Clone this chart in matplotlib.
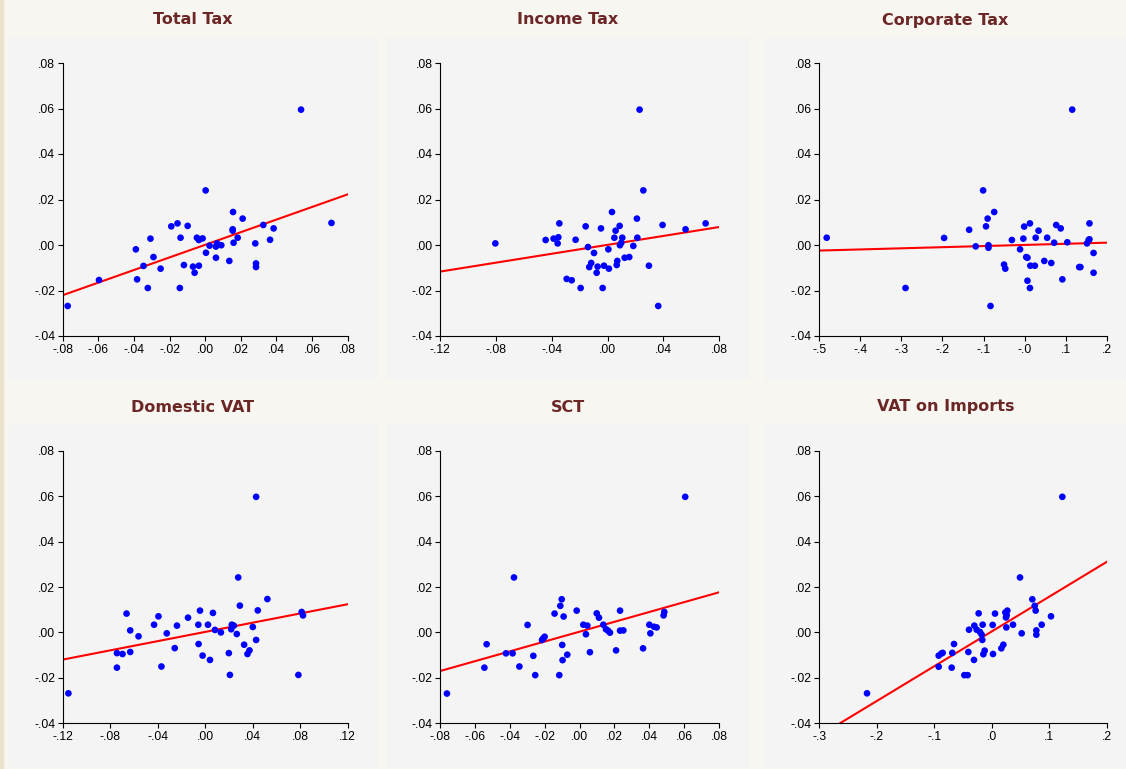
import numpy as np
import matplotlib.pyplot as plt
from matplotlib.patches import Rectangle
from matplotlib.ticker import FuncFormatter

# data (x = tax variable, y = common dependent variable)
titles = ['Total Tax', 'Income Tax', 'Corporate Tax', 'Domestic VAT', 'SCT', 'VAT on Imports']

total_x = [-0.0772, -0.0596, -0.0389, -0.0382, -0.0346, -0.0322, -0.0307, -0.0290, -0.0250, -0.0190,
           -0.0155, -0.0138, -0.0142, -0.0119, -0.0098, -0.0068, -0.0059, -0.0046, -0.0035, -0.0035,
           -0.0014, 0.0003, 0.0005, 0.0025, 0.0061, 0.0067, 0.0061, 0.0091, 0.0136, 0.0157,
           0.0155, 0.0155, 0.0160, 0.0183, 0.0211, 0.0282, 0.0286, 0.0286, 0.0327, 0.0365,
           0.0385, 0.0539, 0.0710]
total_y = [-0.0268, -0.0154, -0.0019, -0.0151, -0.0092, -0.0189, 0.0028, -0.0053, -0.0104, 0.0082,
           0.0095, 0.0032, -0.0189, -0.0088, 0.0084, -0.0095, -0.0122, 0.0032, 0.0022, -0.0091,
           0.0029, 0.0240, -0.0034, -0.0003, -0.0007, 0.0007, -0.0056, -0.0001, -0.0070, 0.0145,
           0.0069, 0.0063, 0.0010, 0.0032, 0.0116, 0.0007, -0.0081, -0.0097, 0.0088, 0.0023,
           0.0073, 0.0595, 0.0097]

income_x = [-0.0805, -0.0444, -0.0387, -0.0358, -0.0353, -0.0346, -0.0293, -0.0257, -0.0229, -0.0193,
            -0.0157, -0.0140, -0.0131, -0.0117, -0.0097, -0.0078, -0.0071, -0.0047, -0.0035, -0.0025,
            0.0006, 0.0010, 0.0032, 0.0049, 0.0058, 0.0066, 0.0070, 0.0087, 0.0089, 0.0099,
            0.0106, 0.0123, 0.0156, 0.0185, 0.0211, 0.0214, 0.0230, 0.0257, 0.0297, 0.0364,
            0.0395, 0.0560, 0.0704]
income_y = [0.0007, 0.0022, 0.0028, 0.0007, 0.0034, 0.0095, -0.0149, -0.0155, 0.0023, -0.0189,
            0.0082, -0.0009, -0.0097, -0.0079, -0.0035, -0.0122, -0.0095, 0.0073, -0.0189, -0.0091,
            -0.0019, -0.0104, 0.0145, 0.0032, 0.0063, -0.0088, -0.0070, 0.0084, -0.0001, 0.0010,
            0.0032, -0.0056, -0.0053, -0.0004, 0.0116, 0.0032, 0.0595, 0.0240, -0.0091, -0.0268,
            0.0088, 0.0069, 0.0095]

corp_x = [-0.482, -0.290, -0.196, -0.135, -0.119, -0.101, -0.094, -0.090, -0.088, -0.088,
          -0.083, -0.074, -0.050, -0.047, -0.031, -0.011, -0.003, -0.001, 0.004, 0.007,
          0.007, 0.013, 0.013, 0.014, 0.025, 0.027, 0.034, 0.048, 0.055, 0.065,
          0.072, 0.077, 0.088, 0.092, 0.104, 0.116, 0.133, 0.136, 0.152, 0.156,
          0.158, 0.158, 0.168, 0.168]
corp_y = [0.0032, -0.0189, 0.0031, 0.0067, -0.0006, 0.0240, 0.0082, 0.0116, -0.0001, -0.0012,
          -0.0268, 0.0145, -0.0086, -0.0104, 0.0022, -0.0019, 0.0028, 0.0081, -0.0053, -0.0056,
          -0.0157, 0.0095, -0.0189, -0.0091, -0.0091, 0.0032, 0.0063, -0.0070, 0.0032, -0.0079,
          0.0010, 0.0088, 0.0073, -0.0151, 0.0012, 0.0595, -0.0097, -0.0097, 0.0007, 0.0022,
          0.0095, 0.0025, -0.0122, -0.0035]

dvat_x = [-0.1152, -0.0743, -0.0743, -0.0696, -0.0662, -0.0631, -0.0631, -0.0561, -0.0430, -0.0393,
          -0.0368, -0.0323, -0.0256, -0.0237, -0.0144, -0.0057, -0.0055, -0.0043, -0.0021, 0.0024,
          0.0041, 0.0066, 0.0083, 0.0133, 0.0200, 0.0209, 0.0220, 0.0225, 0.0242, 0.0267,
          0.0279, 0.0293, 0.0329, 0.0357, 0.0374, 0.0402, 0.0430, 0.0430, 0.0444, 0.0525,
          0.0786, 0.0814, 0.0825]
dvat_y = [-0.0268, -0.0091, -0.0155, -0.0095, 0.0083, 0.0009, -0.0086, -0.0017, 0.0034, 0.0071,
          -0.0150, -0.0004, -0.0069, 0.0030, 0.0065, 0.0034, -0.0051, 0.0096, -0.0102, 0.0034,
          -0.0121, 0.0086, 0.0011, 0.0000, -0.0091, -0.0187, 0.0014, 0.0034, 0.0030, -0.0007,
          0.0242, 0.0118, -0.0054, -0.0095, -0.0079, 0.0024, 0.0597, -0.0033, 0.0097, 0.0147,
          -0.0187, 0.0090, 0.0075]

sct_x = [-0.0762, -0.0547, -0.0534, -0.0423, -0.0385, -0.0377, -0.0346, -0.0299, -0.0266, -0.0255,
         -0.0216, -0.0209, -0.0201, -0.0144, -0.0117, -0.0111, -0.0103, -0.0100, -0.0098, -0.0092,
         -0.0071, -0.0017, 0.0021, 0.0036, 0.0044, 0.0059, 0.0098, 0.0111, 0.0136, 0.0151,
         0.0163, 0.0174, 0.0209, 0.0232, 0.0232, 0.0251, 0.0364, 0.0400, 0.0406, 0.0427,
         0.0442, 0.0482, 0.0486, 0.0606]
sct_y = [-0.0269, -0.0155, -0.0052, -0.0092, -0.0092, 0.0242, -0.0150, 0.0033, -0.0103, -0.0188,
         -0.0033, -0.0026, -0.0019, 0.0083, -0.0188, 0.0117, 0.0146, -0.0055, -0.0122, 0.0070,
         -0.0098, 0.0096, 0.0034, -0.0008, 0.0030, -0.0087, 0.0084, 0.0065, 0.0034, 0.0014,
         0.0008, -0.0001, -0.0079, 0.0096, 0.0008, 0.0009, -0.0070, 0.0034, -0.0004, 0.0025,
         0.0022, 0.0075, 0.0090, 0.0597]

ivat_x = [-0.2170, -0.0923, -0.0923, -0.0877, -0.0854, -0.0697, -0.0686, -0.0657, -0.0477, -0.0419,
          -0.0407, -0.0396, -0.0309, -0.0303, -0.0262, -0.0228, -0.0204, -0.0175, -0.0158, -0.0164,
          -0.0146, -0.0123, 0.0016, 0.0022, 0.0057, 0.0167, 0.0202, 0.0237, 0.0248, 0.0254,
          0.0271, 0.0260, 0.0370, 0.0492, 0.0521, 0.0706, 0.0747, 0.0764, 0.0776, 0.0776,
          0.0869, 0.1031, 0.1228]
ivat_y = [-0.0268, -0.0151, -0.0102, -0.0093, -0.0090, -0.0155, -0.0090, -0.0051, -0.0188, -0.0188,
          -0.0086, 0.0012, -0.0121, 0.0030, 0.0012, 0.0084, 0.0002, -0.0010, 0.0034, -0.0033,
          -0.0096, -0.0080, 0.0033, -0.0095, 0.0083, -0.0070, -0.0054, 0.0088, 0.0066, 0.0022,
          0.0096, 0.0076, 0.0034, 0.0242, -0.0004, 0.0146, 0.0117, 0.0096, 0.0009, -0.0010,
          0.0034, 0.0071, 0.0597]

xs = [total_x, income_x, corp_x, dvat_x, sct_x, ivat_x]
ys = [total_y, income_y, corp_y, dvat_y, sct_y, ivat_y]

x_limits = [(-0.08, 0.08), (-0.12, 0.08), (-0.5, 0.2), (-0.12, 0.12), (-0.08, 0.08), (-0.3, 0.2)]
x_ticks = [np.arange(-0.08, 0.081, 0.02), np.arange(-0.12, 0.081, 0.04), np.arange(-0.5, 0.21, 0.1),
           np.arange(-0.12, 0.121, 0.04), np.arange(-0.08, 0.081, 0.02), np.arange(-0.3, 0.21, 0.1)]
x_decimals = [2, 2, 1, 2, 2, 1]
y_ticks = [-0.04, -0.02, 0.00, 0.02, 0.04, 0.06, 0.08]

bg = '#F8F6F0'
panel_bg = '#F4F4F4'
title_color = '#6B2626'

W, H = 1126, 769
fig = plt.figure(figsize=(W / 100, H / 100), dpi=100, facecolor=bg)

# left tan strip
fig.add_artist(Rectangle((0, 0), 3 / W, 1, transform=fig.transFigure, color='#ECE3CC', zorder=0))

# panel boxes and axes boxes, in pixels
panel_cols = [(9, 376), (387, 748), (765, 1126)]
panel_rows = [(38, 379), (425, 766)]
axes_cols = [(62.7, 347.5), (440.3, 719), (819.3, 1106.7)]
axes_rows = [(63, 336), (450.7, 723.3)]
title_y = [20, 407]


def fmt(decimals):
    def f(v, pos):
        s = f'{v:.{decimals}f}'
        if s.startswith('-0'):
            s = '-' + s[2:]
        elif s.startswith('0'):
            s = s[1:]
        return s
    return f


for i in range(6):
    r, c = divmod(i, 3)
    pl, pr = panel_cols[c]
    pt, pb = panel_rows[r]
    fig.add_artist(Rectangle((pl / W, 1 - pb / H), (pr - pl) / W, (pb - pt) / H,
                             transform=fig.transFigure, color=panel_bg, zorder=0))
    fig.text((pl + pr) / 2 / W, 1 - title_y[r] / H, titles[i], ha='center', va='center',
             fontsize=11.5, fontweight='bold', color=title_color, family='DejaVu Sans')

    al, ar = axes_cols[c]
    at, ab = axes_rows[r]
    ax = fig.add_axes([al / W, 1 - ab / H, (ar - al) / W, (ab - at) / H])
    ax.set_facecolor('none')

    x = np.array(xs[i])
    y = np.array(ys[i])
    ax.scatter(x, y, s=23, color='#0000FF', edgecolors='none', zorder=3)

    # OLS fit line across the x range
    b, a = np.polyfit(x, y, 1)
    xl = np.array(x_limits[i])
    ax.plot(xl, a + b * xl, color='#FF0000', linewidth=1.5, zorder=2)

    ax.set_xlim(*x_limits[i])
    ax.set_ylim(-0.04, 0.08)
    ax.set_xticks(x_ticks[i])
    ax.set_yticks(y_ticks)
    ax.xaxis.set_major_formatter(FuncFormatter(fmt(x_decimals[i])))
    ax.yaxis.set_major_formatter(FuncFormatter(fmt(2)))
    for side in ['top', 'right']:
        ax.spines[side].set_visible(False)
    for side in ['left', 'bottom']:
        ax.spines[side].set_color('black')
        ax.spines[side].set_linewidth(0.8)
    ax.tick_params(direction='out', length=3.5, width=0.8, labelsize=8.7, colors='black', pad=2)
    for lab in ax.get_xticklabels() + ax.get_yticklabels():
        lab.set_family('Liberation Sans')

fig.savefig('out.png', dpi=100, facecolor=bg)
